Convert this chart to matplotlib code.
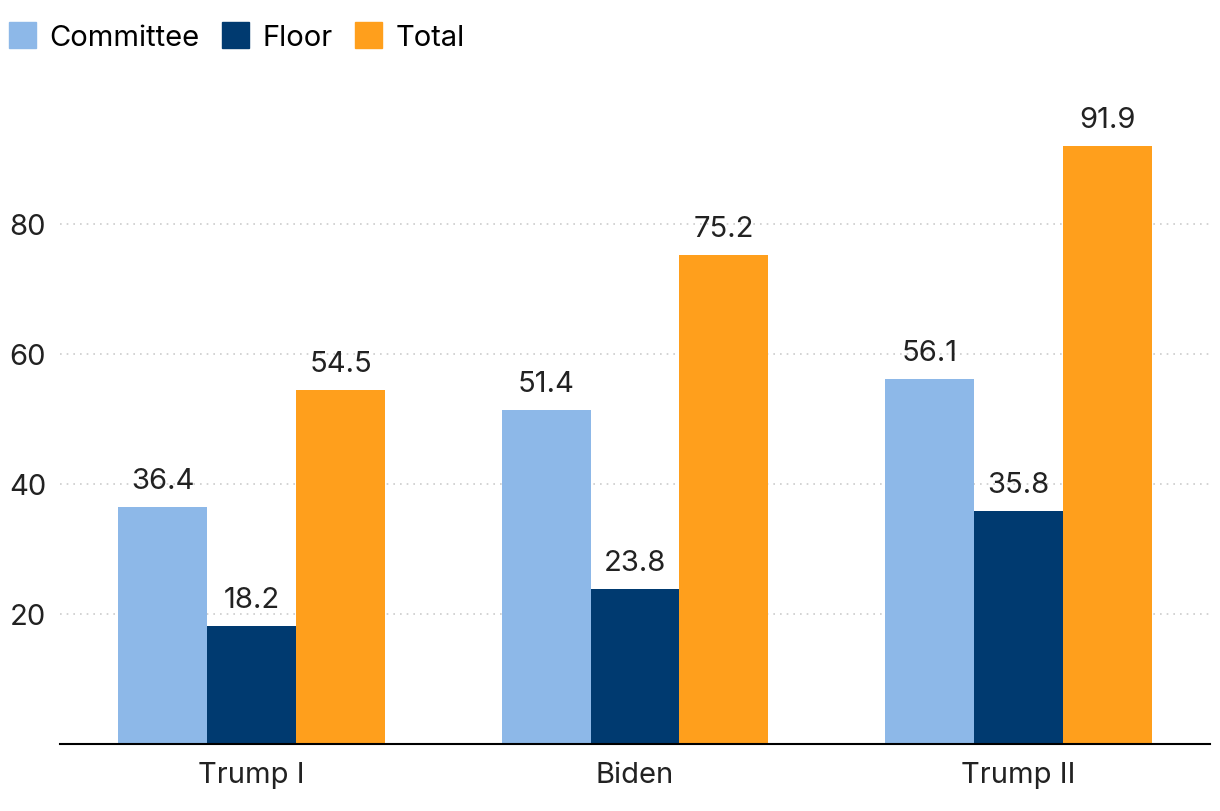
import numpy as np
import matplotlib.pyplot as plt
import matplotlib.patches as mpatches

plt.rcParams['font.family'] = ['Inter', 'DejaVu Sans']

# data
groups = ['Trump I', 'Biden', 'Trump II']
series = ['Committee', 'Floor', 'Total']
committee = [36.4, 51.4, 56.1]
floor = [18.2, 23.8, 35.8]
total = [54.5, 75.2, 91.9]
colors = ['#8DB8E8', '#003A70', '#FF9F1C']

fig = plt.figure(figsize=(12.2, 8.12), dpi=100)
ax = fig.add_axes([60 / 1220, 1 - 745 / 812, 1150 / 1220, (745 - 92) / 812])

x = np.arange(len(groups))
w = 0.232
for i, (vals, c) in enumerate(zip([committee, floor, total], colors)):
    bars = ax.bar(x + (i - 1) * w, vals, w, color=c, zorder=2)
    for b, v in zip(bars, vals):
        ax.text(b.get_x() + b.get_width() / 2, v + 2.0, f'{v:.1f}',
                ha='center', va='bottom', fontsize=21, color='#222222')

ax.set_xlim(-0.5, 2.5)
ax.set_ylim(0, 100.4)
ax.set_yticks([20, 40, 60, 80])
ax.set_xticks(x)
ax.set_xticklabels(groups)
ax.tick_params(axis='both', length=0, labelsize=21, colors='#222222')
ax.tick_params(axis='x', pad=12)
ax.tick_params(axis='y', pad=10)
ax.grid(axis='y', color='#cccccc', linestyle=(0, (1, 3)), linewidth=1.2, zorder=0)
for s in ['top', 'right', 'left']:
    ax.spines[s].set_visible(False)
ax.spines['bottom'].set_linewidth(1.5)
ax.spines['bottom'].set_color('black')

handles = [mpatches.Patch(color=c, label=s) for c, s in zip(colors, series)]
fig.legend(handles=handles, loc='upper left', bbox_to_anchor=(0.0, 0.982),
           ncol=3, frameon=False, fontsize=21, handlelength=0.95, handleheight=0.95,
           handletextpad=0.45, columnspacing=0.75, borderaxespad=0.0,
           borderpad=0.3)

fig.savefig('out.png', dpi=100)
